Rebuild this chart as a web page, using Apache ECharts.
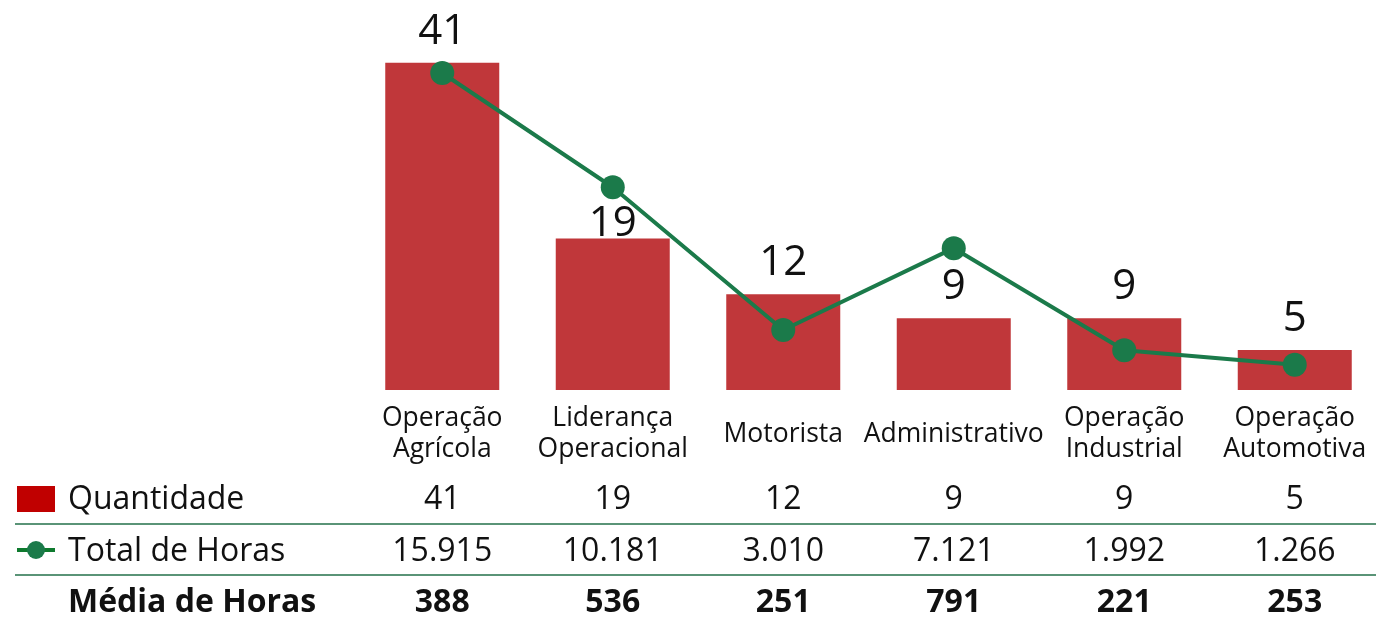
<!DOCTYPE html>
<html>
<head>
<meta charset="utf-8">
<script src="https://cdn.jsdelivr.net/npm/echarts@6/dist/echarts.min.js"></script>
<style>
html, body { margin: 0; padding: 0; background: #fff; overflow: hidden; }
#chart { width: 1380px; height: 619px; }
</style>
</head>
<body>
<div id="chart"></div>
<script>
// dados
var categorias = ['Operação\nAgrícola', 'Liderança\nOperacional', 'Motorista', 'Administrativo', 'Operação\nIndustrial', 'Operação\nAutomotiva'];
var quantidade = [41, 19, 12, 9, 9, 5];
var totalHoras = [15915, 10181, 3010, 7121, 1992, 1266];
var mediaHoras = [388, 536, 251, 791, 221, 253];
var linhasTabela = ['Quantidade', 'Total de Horas', 'Média de Horas'];

var VERMELHO = '#C0373A';
var VERDE = '#1B7A4A';
var fonte = '"Open Sans", "Noto Sans", sans-serif';

function milhar(v) {
    return String(v).replace(/\B(?=(\d{3})+(?!\d))/g, '.');
}

function eixoTabela(valores, margem, negrito) {
    return {
        type: 'category',
        gridIndex: 0,
        position: 'bottom',
        data: valores,
        axisLine: { show: false },
        axisTick: { show: false },
        axisLabel: {
            interval: 0,
            margin: margem,
            verticalAlign: 'middle',
            color: '#111',
            fontFamily: fonte,
            fontSize: 32,
            fontWeight: negrito ? 'bold' : 'normal'
        }
    };
}

var chart = echarts.init(document.getElementById('chart'));

var option = {
    animation: false,
    grid: { left: 357, right: 0, top: 7, bottom: 229 },
    xAxis: [
        {
            type: 'category',
            data: categorias,
            axisLine: { show: false },
            axisTick: { show: false },
            axisLabel: {
                interval: 0,
                margin: 44,
                verticalAlign: 'middle',
                lineHeight: 31,
                color: '#111',
                fontFamily: fonte,
                fontSize: 26.5
            }
        },
        eixoTabela(quantidade.map(String), 110, false),
        eixoTabela(totalHoras.map(milhar), 162, false),
        eixoTabela(mediaHoras.map(String), 213, true)
    ],
    yAxis: [
        { type: 'value', min: 0, max: 48, show: false },
        { type: 'value', min: 0, max: 19230, show: false }
    ],
    series: [
        {
            name: 'Quantidade',
            type: 'bar',
            barWidth: 114,
            itemStyle: { color: VERMELHO },
            label: {
                show: true,
                position: 'top',
                distance: 10,
                color: '#111',
                fontFamily: fonte,
                fontSize: 42
            },
            data: quantidade.map(function (v, i) {
                if (i === 1) return { value: v, label: { distance: -7 } };
                return v;
            })
        },
        {
            name: 'Total de Horas',
            type: 'line',
            yAxisIndex: 1,
            symbol: 'circle',
            symbolSize: 24,
            lineStyle: { color: VERDE, width: 4 },
            itemStyle: { color: VERDE },
            data: totalHoras
        }
    ],
    graphic: [
        { type: 'rect', left: 17, top: 486, shape: { width: 38, height: 26 }, style: { fill: '#C00000' } },
        { type: 'line', shape: { x1: 17, y1: 550, x2: 55, y2: 550 }, style: { stroke: '#0E7A2E', lineWidth: 4 } },
        { type: 'circle', shape: { cx: 36, cy: 550, r: 9 }, style: { fill: VERDE } },
        { type: 'line', shape: { x1: 15, y1: 524, x2: 1376, y2: 524 }, style: { stroke: '#23704A', lineWidth: 1.5 } },
        { type: 'line', shape: { x1: 15, y1: 575, x2: 1376, y2: 575 }, style: { stroke: '#23704A', lineWidth: 1.5 } },
        { type: 'text', x: 68, y: 500, style: { text: linhasTabela[0], fill: '#111', font: '32px ' + fonte, verticalAlign: 'middle' } },
        { type: 'text', x: 68, y: 552, style: { text: linhasTabela[1], fill: '#111', font: '32px ' + fonte, verticalAlign: 'middle' } },
        { type: 'text', x: 68, y: 603, style: { text: linhasTabela[2], fill: '#111', font: 'bold 32px ' + fonte, verticalAlign: 'middle' } }
    ]
};

chart.setOption(option);
</script>
</body>
</html>
